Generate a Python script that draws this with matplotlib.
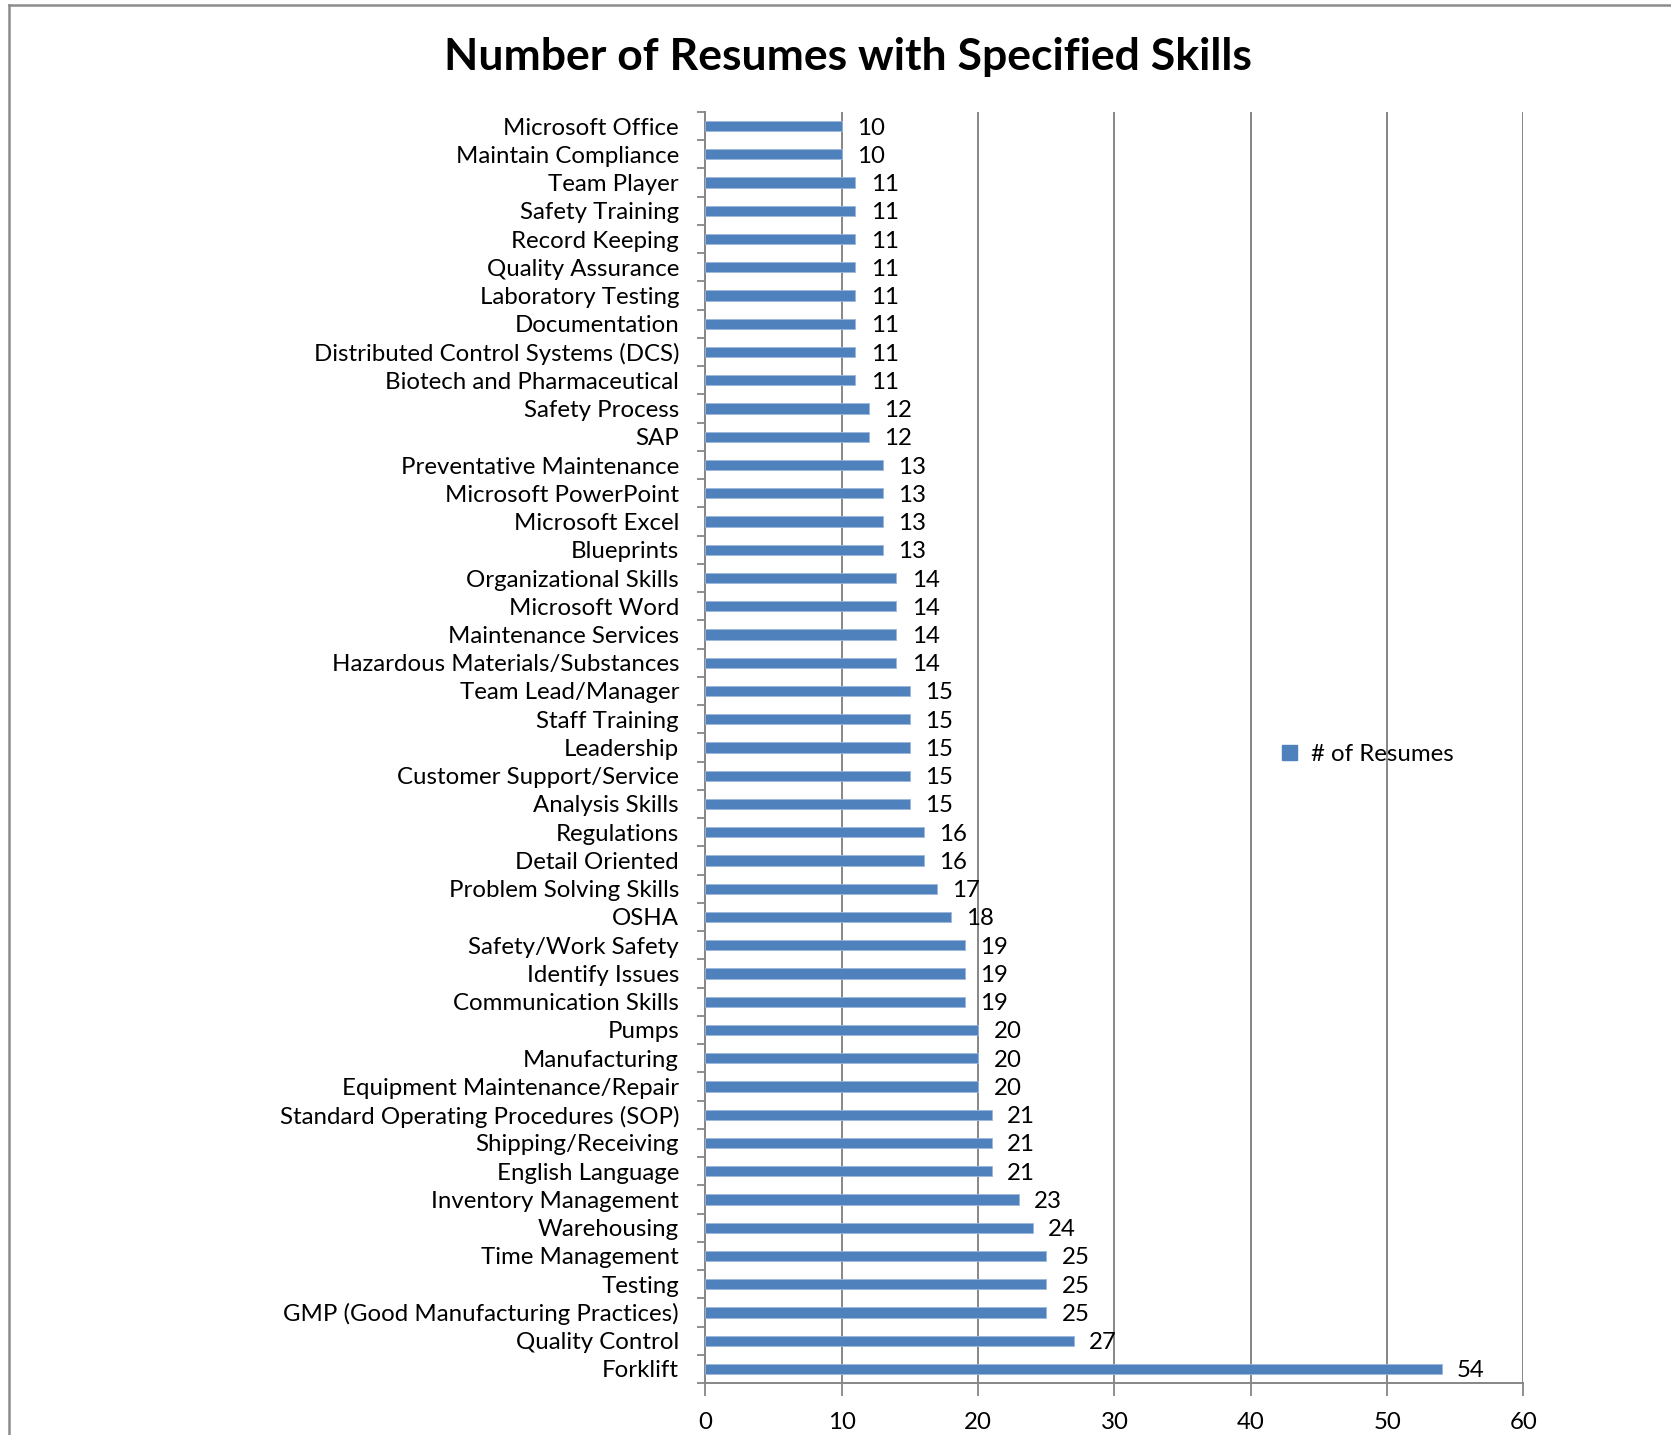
import matplotlib.pyplot as plt
import matplotlib.lines as mlines
from matplotlib.patches import Patch

# skills, top of chart to bottom
skills = [
    'Microsoft Office', 'Maintain Compliance', 'Team Player', 'Safety Training',
    'Record Keeping', 'Quality Assurance', 'Laboratory Testing', 'Documentation',
    'Distributed Control Systems (DCS)', 'Biotech and Pharmaceutical',
    'Safety Process', 'SAP', 'Preventative Maintenance', 'Microsoft PowerPoint',
    'Microsoft Excel', 'Blueprints', 'Organizational Skills', 'Microsoft Word',
    'Maintenance Services', 'Hazardous Materials/Substances', 'Team Lead/Manager',
    'Staff Training', 'Leadership', 'Customer Support/Service', 'Analysis Skills',
    'Regulations', 'Detail Oriented', 'Problem Solving Skills', 'OSHA',
    'Safety/Work Safety', 'Identify Issues', 'Communication Skills', 'Pumps',
    'Manufacturing', 'Equipment Maintenance/Repair',
    'Standard Operating Procedures (SOP)', 'Shipping/Receiving',
    'English Language', 'Inventory Management', 'Warehousing', 'Time Management',
    'Testing', 'GMP (Good Manufacturing Practices)', 'Quality Control', 'Forklift',
]
counts = [10, 10, 11, 11, 11, 11, 11, 11, 11, 11, 12, 12, 13, 13, 13, 13,
          14, 14, 14, 14, 15, 15, 15, 15, 15, 16, 16, 17, 18, 19, 19, 19,
          20, 20, 20, 21, 21, 21, 23, 24, 25, 25, 25, 27, 54]
xticks = [0, 10, 20, 30, 40, 50, 60]

plt.rcParams['font.family'] = ['Lato', 'DejaVu Sans']
bar_color = '#4F81BD'
grid_color = '#868686'

fig = plt.figure(figsize=(16.71, 14.35), dpi=100)
ax = fig.add_axes([0.4222, 0.0362, 0.4895, 0.8858])

ypos = list(range(len(skills)))
ax.barh(ypos, counts, height=0.36, color=bar_color, edgecolor='#9DB7DB',
        linewidth=0.6, zorder=3)
for y, v in zip(ypos, counts):
    ax.annotate(str(v), (v, y), xytext=(11, 0), textcoords='offset points',
                va='center_baseline', ha='left', fontsize=17.3, zorder=4)

ax.set_ylim(len(skills) - 0.5, -0.5)
ax.set_xlim(0, 60)
ax.set_yticks(ypos)
ax.set_yticklabels(skills, fontsize=17.3)
ax.set_yticks([i - 0.5 for i in range(len(skills) + 1)], minor=True)
ax.tick_params(axis='y', which='major', length=0, pad=19)
ax.tick_params(axis='y', which='minor', length=6, width=1.3, color=grid_color)
ax.set_xticks(xticks)
ax.tick_params(axis='x', length=9, width=1.3, color=grid_color, pad=11.5,
               labelsize=17.3)

ax.xaxis.grid(True, color=grid_color, linewidth=1.4, zorder=0)
for s in ['top', 'right']:
    ax.spines[s].set_visible(False)
for s in ['left', 'bottom']:
    ax.spines[s].set_color(grid_color)
    ax.spines[s].set_linewidth(1.4)

fig.text(0.5075, 0.960, 'Number of Resumes with Specified Skills',
         ha='center', va='center', fontsize=32, fontweight='bold')

leg = fig.legend(handles=[Patch(color=bar_color, label='# of Resumes')],
                 loc='center left', bbox_to_anchor=(0.7545, 0.474),
                 frameon=False, fontsize=17.3, handlelength=0.6,
                 handleheight=0.6, handletextpad=0.6)

# outer chart border (cropped at right and bottom)
fig.add_artist(mlines.Line2D([9 / 1671, 9 / 1671], [0, 1 - 5 / 1435],
                             color='#8c8c8c', linewidth=1.8))
fig.add_artist(mlines.Line2D([9 / 1671, 1], [1 - 5 / 1435, 1 - 5 / 1435],
                             color='#8c8c8c', linewidth=1.8))

fig.savefig('out.png', dpi=100)
